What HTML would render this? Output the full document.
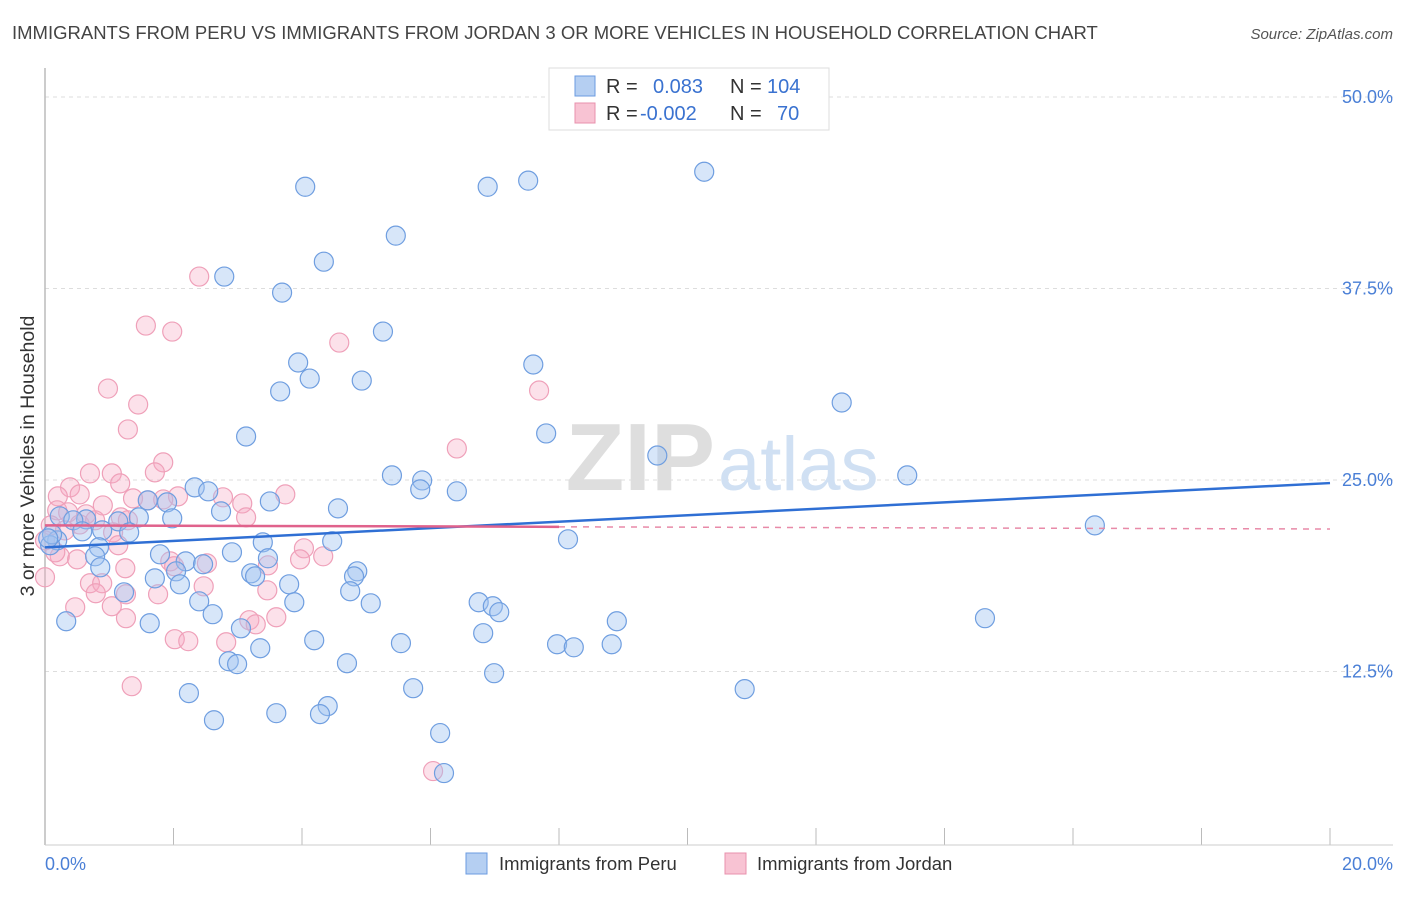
<!DOCTYPE html>
<html><head><meta charset="utf-8"><style>
body{margin:0;background:#fff;font-family:"Liberation Sans",sans-serif;}
svg text{font-family:"Liberation Sans",sans-serif;}
</style></head><body>
<svg width="1406" height="892" viewBox="0 0 1406 892" xmlns="http://www.w3.org/2000/svg">
<text x="12" y="39" font-size="18.5" fill="#444">IMMIGRANTS FROM PERU VS IMMIGRANTS FROM JORDAN 3 OR MORE VEHICLES IN HOUSEHOLD CORRELATION CHART</text>
<text x="1393" y="39" font-size="15" font-style="italic" fill="#555" text-anchor="end">Source: ZipAtlas.com</text>
<g id="grid"></g>
<g id="yt"></g>
<g id="xt"></g>
<line x1="45" y1="68" x2="45" y2="845" stroke="#bbb" stroke-width="1.5"/>
<line x1="45" y1="845" x2="1393" y2="845" stroke="#ccc"/>
<text x="715" y="490" font-size="96" font-family="Liberation Serif,serif" fill="#dedede" text-anchor="end" font-weight="bold">ZIP</text>
<text x="718" y="490" font-size="76" fill="#d0e0f3">atlas</text>
<g id="pts"></g>
<g id="lines"></g>
<text transform="translate(34,456) rotate(-90)" font-size="19.5" fill="#333" text-anchor="middle">3 or more Vehicles in Household</text>
<text x="45" y="870" font-size="18" fill="#4a7fd6">0.0%</text>
<text x="1393" y="870" font-size="18" fill="#4a7fd6" text-anchor="end">20.0%</text>
<g>
<rect x="549" y="68" width="280" height="62" fill="#fff" stroke="#ddd"/>
<rect x="575" y="76" width="20" height="20" fill="#b5cff2" stroke="#6b9be0"/>
<rect x="575" y="103" width="20" height="20" fill="#f8c3d3" stroke="#e890ad"/>
<text x="606" y="93" font-size="20" fill="#333">R = </text><text x="653" y="93" font-size="20" fill="#3a72d0">0.083</text>
<text x="730" y="93" font-size="20" fill="#333">N = </text><text x="767" y="93" font-size="20" fill="#3a72d0">104</text>
<text x="606" y="120" font-size="20" fill="#333">R = </text><text x="640" y="120" font-size="20" fill="#3a72d0">-0.002</text>
<text x="730" y="120" font-size="20" fill="#333">N = </text><text x="777" y="120" font-size="20" fill="#3a72d0">70</text>
</g>
<g>
<rect x="466" y="853" width="21" height="21" fill="#b5cff2" stroke="#6b9be0"/>
<text x="499" y="870" font-size="18.5" fill="#333">Immigrants from Peru</text>
<rect x="725" y="853" width="21" height="21" fill="#f8c3d3" stroke="#e890ad"/>
<text x="757" y="870" font-size="18.5" fill="#333">Immigrants from Jordan</text>
</g>
</svg>
<script>
const yTicks=[12.5,25,37.5,50];
const yTickLabels=["12.5%","25.0%","37.5%","50.0%"];
const xTicks=[0,2,4,6,8,10,12,14,16,18,20];
const peruX=[4.05,6.89,7.52,10.26,5.46,4.34,2.79,3.69,5.26,3.94,7.60,4.12,4.93,3.66,12.40,7.80,3.13,9.53,13.42,5.40,5.87,5.84,6.41,2.33,2.54,1.90,1.60,3.50,2.74,4.56,1.98,1.46,1.14,0.64,0.23,0.44,16.34,0.58,1.31,0.89,0.19,0.08,8.14,3.39,4.47,0.84,1.79,2.91,0.78,2.19,2.46,3.47,2.04,0.86,3.21,3.27,4.86,4.81,1.71,3.80,2.10,4.75,1.23,5.07,3.88,2.40,6.75,6.97,7.07,2.61,8.90,14.63,0.33,1.63,3.05,6.82,4.19,5.54,7.97,8.23,8.82,3.35,2.86,2.99,4.70,6.99,5.73,10.89,2.24,4.40,3.60,4.28,2.63,6.15,6.21,0.11,0.05];
const peruY=[44.14,44.14,44.54,45.12,40.95,39.25,38.28,37.23,34.69,32.67,32.54,31.62,31.49,30.78,30.06,28.04,27.84,26.60,25.30,25.30,24.97,24.39,24.26,24.52,24.26,23.54,23.67,23.60,22.95,23.15,22.50,22.56,22.30,22.43,22.63,22.37,22.04,21.65,21.58,21.71,21.06,20.74,21.13,20.93,21.00,20.61,20.15,20.28,20.02,19.69,19.50,19.89,19.04,19.30,18.91,18.71,19.04,18.71,18.58,18.19,18.19,17.74,17.67,16.95,17.02,17.08,17.02,16.76,16.37,16.24,15.78,15.98,15.78,15.65,15.32,15.00,14.54,14.35,14.28,14.08,14.28,14.02,13.17,12.98,13.04,12.39,11.41,11.35,11.09,10.24,9.78,9.72,9.32,8.48,5.87,21.45,21.19];
const jordanX=[2.40,1.57,1.98,4.58,0.98,7.69,1.45,1.29,6.41,1.84,1.71,0.70,1.04,0.39,1.17,0.54,0.20,0.90,0.19,2.07,1.60,2.77,3.07,3.74,1.84,0.64,0.36,1.18,3.13,0.09,0.54,1.29,1.06,0.0,1.14,0.23,4.03,0.50,4.33,1.95,2.52,3.47,2.01,1.25,3.97,0.0,0.70,0.89,2.47,1.76,3.46,1.26,0.79,1.04,0.47,1.26,3.18,3.60,3.28,2.02,2.23,2.82,1.35,6.04,0.16,0.31,0.78,1.37];
const jordanY=[38.28,35.08,34.69,33.97,30.97,30.84,29.93,28.30,27.06,26.15,25.50,25.43,25.43,24.52,24.78,24.06,23.93,23.34,23.02,23.93,23.67,23.87,23.47,24.06,23.73,22.76,22.89,22.56,22.56,22.04,22.10,22.37,21.58,21.06,20.74,20.02,20.54,19.82,20.02,19.69,19.56,19.43,19.37,19.24,19.82,18.65,18.26,18.26,18.06,17.54,17.80,17.54,17.61,16.76,16.69,15.98,15.85,16.04,15.58,14.61,14.48,14.41,11.54,6.00,20.28,21.71,22.37,23.80];
const peruTrend=[20.6,24.8];
const jordanTrend=[22.04,21.8];
const NS="http://www.w3.org/2000/svg";
const sx=v=>45+v/20*1285;
const sy=v=>863-v/50*766;
function mk(t,a,p){const e=document.createElementNS(NS,t);for(const k in a)e.setAttribute(k,a[k]);p.appendChild(e);return e;}
const grid=document.getElementById('grid'),yt=document.getElementById('yt'),xt=document.getElementById('xt');
yTicks.forEach((v,i)=>{
 const l=mk('line',{x1:45,x2:1393,y1:sy(v),y2:sy(v),stroke:'#ddd','stroke-dasharray':'4,4'},grid);
 
 
 const t=mk('text',{x:1393,y:sy(v)+6,'font-size':18,fill:'#4a7fd6','text-anchor':'end'},yt);
 t.textContent=yTickLabels[i];
 
 
});
xTicks.forEach(v=>{
 const l=mk('line',{x1:sx(v),x2:sx(v),y1:828,y2:845,stroke:'#bbb'},xt);
 
 
});
const pts=document.getElementById('pts');
jordanX.forEach((x,i)=>{
 const c=mk('circle',{cx:sx(x),cy:sy(jordanY[i]),r:9.5,fill:'rgba(245,170,196,0.35)',stroke:'#efa0b9','stroke-width':1.2},pts);
 
 
});
peruX.forEach((x,i)=>{
 const c=mk('circle',{cx:sx(x),cy:sy(peruY[i]),r:9.5,fill:'rgba(160,196,240,0.42)',stroke:'#6f9ee0','stroke-width':1.2},pts);
 
 
});
const lines=document.getElementById('lines');
const lb=mk('line',{x1:sx(0),y1:sy(peruTrend[0]),x2:sx(20),y2:sy(peruTrend[1]),stroke:'#2f6fd4','stroke-width':2.5},lines);


const jm=jordanTrend[0]+(jordanTrend[1]-jordanTrend[0])*0.4;
const lp=mk('line',{x1:sx(0),y1:sy(jordanTrend[0]),x2:sx(8),y2:sy(jm),stroke:'#e0628c','stroke-width':2.5},lines);


const ld=mk('line',{x1:sx(8),y1:sy(jm),x2:sx(20),y2:sy(jordanTrend[1]),stroke:'#e88aa8','stroke-width':1.5,'stroke-dasharray':'6,6'},lines);


</script>
</body></html>
